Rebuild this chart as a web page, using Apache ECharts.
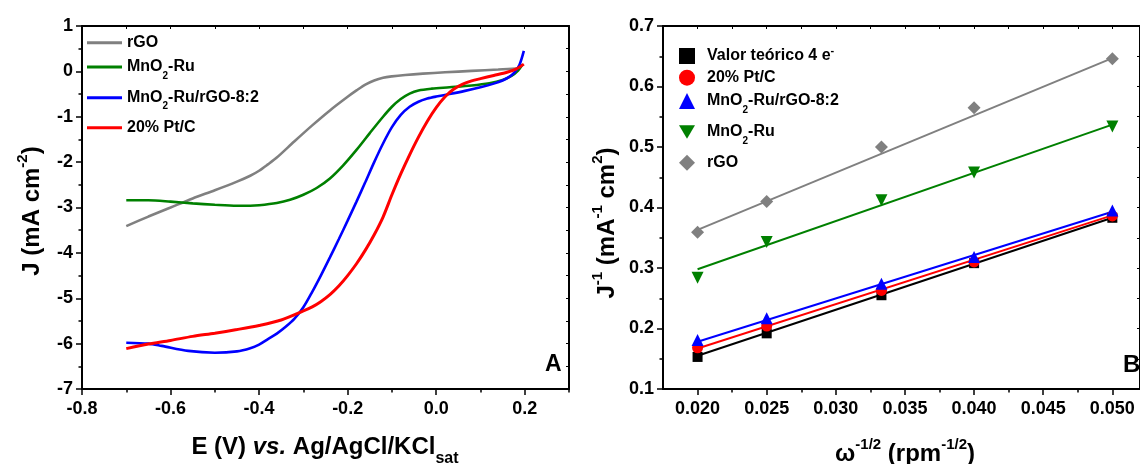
<!DOCTYPE html>
<html><head><meta charset="utf-8">
<script src="https://cdn.jsdelivr.net/npm/echarts@6/dist/echarts.min.js"></script>
<style>html,body{margin:0;padding:0;background:#fff}#c{width:1140px;height:464px}</style>
</head><body><div id="c"></div>
<script>
const FONT = "'Liberation Sans', Arial, Helvetica, sans-serif";

// ---------- Panel A: E (V) vs. J (mA cm^-2) ----------
const curveRGO = [[-0.70,-3.41],[-0.65,-3.20],[-0.60,-3.00],[-0.55,-2.80],[-0.50,-2.62],[-0.45,-2.43],[-0.42,-2.30],[-0.40,-2.19],[-0.38,-2.05],[-0.36,-1.90],[-0.32,-1.54],[-0.28,-1.19],[-0.24,-0.86],[-0.20,-0.56],[-0.18,-0.42],[-0.16,-0.29],[-0.14,-0.20],[-0.12,-0.14],[-0.10,-0.11],[-0.07,-0.08],[-0.03,-0.05],[0.02,-0.02],[0.08,0.01],[0.14,0.04],[0.19,0.07]];
const curveMnO2Ru = [[-0.70,-2.84],[-0.65,-2.84],[-0.60,-2.87],[-0.55,-2.91],[-0.50,-2.94],[-0.45,-2.96],[-0.42,-2.96],[-0.40,-2.95],[-0.36,-2.90],[-0.33,-2.83],[-0.30,-2.72],[-0.27,-2.57],[-0.24,-2.36],[-0.21,-2.07],[-0.18,-1.73],[-0.15,-1.36],[-0.12,-1.00],[-0.10,-0.78],[-0.08,-0.61],[-0.06,-0.49],[-0.04,-0.42],[-0.01,-0.38],[0.03,-0.35],[0.08,-0.31],[0.12,-0.26],[0.15,-0.19],[0.17,-0.10],[0.185,0.02],[0.195,0.15]];
const curveComposite = [[-0.70,-5.98],[-0.65,-6.00],[-0.62,-6.05],[-0.56,-6.16],[-0.50,-6.20],[-0.45,-6.17],[-0.42,-6.10],[-0.40,-6.02],[-0.38,-5.90],[-0.36,-5.78],[-0.34,-5.63],[-0.32,-5.45],[-0.30,-5.20],[-0.28,-4.86],[-0.26,-4.49],[-0.24,-4.10],[-0.22,-3.70],[-0.20,-3.29],[-0.18,-2.87],[-0.16,-2.44],[-0.14,-2.00],[-0.12,-1.59],[-0.10,-1.23],[-0.08,-0.96],[-0.06,-0.78],[-0.04,-0.67],[-0.02,-0.60],[0.00,-0.555],[0.03,-0.50],[0.065,-0.43],[0.10,-0.35],[0.13,-0.27],[0.15,-0.20],[0.165,-0.12],[0.177,-0.02],[0.188,0.14],[0.198,0.45]];
const curvePtC = [[-0.70,-6.11],[-0.65,-6.01],[-0.60,-5.93],[-0.55,-5.84],[-0.50,-5.77],[-0.45,-5.69],[-0.40,-5.60],[-0.35,-5.48],[-0.30,-5.28],[-0.28,-5.19],[-0.26,-5.07],[-0.24,-4.92],[-0.22,-4.73],[-0.20,-4.50],[-0.18,-4.24],[-0.16,-3.94],[-0.14,-3.60],[-0.12,-3.21],[-0.10,-2.72],[-0.08,-2.26],[-0.06,-1.84],[-0.04,-1.45],[-0.02,-1.10],[0.00,-0.80],[0.02,-0.56],[0.04,-0.39],[0.06,-0.28],[0.08,-0.21],[0.10,-0.16],[0.13,-0.09],[0.16,-0.02],[0.18,0.05],[0.198,0.16]];
const xTicksA = [-0.8,-0.6,-0.4,-0.2,0.0,0.2];
const xMinorA = [-0.7,-0.5,-0.3,-0.1,0.1,0.3];
const yTicksA = [-7,-6,-5,-4,-3,-2,-1,0,1];
const yMinorA = [-6.5,-5.5,-4.5,-3.5,-2.5,-1.5,-0.5,0.5];

// ---------- Panel B: omega^-1/2 vs. J^-1 ----------
const omegaInv = [0.020,0.025,0.0333,0.040,0.050];
const invJTheory = [0.153,0.192,0.255,0.308,0.383];
const invJPtC = [0.168,0.204,0.263,0.310,0.386];
const invJComposite = [0.181,0.217,0.274,0.318,0.395];
const invJMnO2Ru = [0.284,0.343,0.412,0.458,0.534];
const invJRGO = [0.359,0.410,0.500,0.565,0.646];
const fitX = [0.020,0.050];
const fitTheory = [0.155,0.383];
const fitPtC = [0.167,0.387];
const fitComposite = [0.178,0.393];
const fitMnO2Ru = [0.298,0.537];
const fitRGO = [0.363,0.647];
const xTicksB = [0.020,0.025,0.030,0.035,0.040,0.045,0.050];
const xMinorB = [0.0225,0.0275,0.0325,0.0375,0.0425,0.0475];
const yTicksB = [0.1,0.2,0.3,0.4,0.5,0.6,0.7];
const yMinorB = [0.15,0.25,0.35,0.45,0.55,0.65];

function mkAxes(gridIndex, dim, min, max, majors, minors, fmt, margin) {
  const mainPos = dim === 'x' ? 'bottom' : 'left';
  const oppPos = dim === 'x' ? 'top' : 'right';
  const line = {show: true, onZero: false, lineStyle: {color: '#000', width: 2}};
  return [
    {type: 'value', gridIndex, position: mainPos, min, max, axisLine: line, splitLine: {show: false},
     axisTick: {show: true, inside: false, length: 6, lineStyle: {width: 1.5, color: '#000'}, customValues: majors},
     axisLabel: {show: true, customValues: majors, formatter: fmt, margin, color: '#000',
                 fontFamily: FONT, fontWeight: 'bold', fontSize: 18}},
    {type: 'value', gridIndex, position: mainPos, min, max, axisLine: {show: false, onZero: false}, splitLine: {show: false},
     axisTick: {show: true, inside: false, length: 3.5, lineStyle: {width: 1.5, color: '#000'}, customValues: minors},
     axisLabel: {show: false}},
    {type: 'value', gridIndex, position: oppPos, min, max, axisLine: line, splitLine: {show: false},
     axisTick: {show: true, inside: true, length: 3, lineStyle: {width: 1, color: '#000'}, customValues: majors.concat(minors)},
     axisLabel: {show: false}}
  ];
}

const richLeg = {
  b: {fontSize: 16, fontWeight: 'bold', fontFamily: FONT, color: '#000', padding: [6, 0, 6, 0]},
  sub: {fontSize: 10, fontWeight: 'bold', fontFamily: FONT, color: '#000', verticalAlign: 'top', padding: [18, 0, 0, 0]},
  sup: {fontSize: 11, fontWeight: 'bold', fontFamily: FONT, color: '#000', verticalAlign: 'top', padding: [3, 0, 0, 0]},
  g: {width: 7, fontSize: 1}
};
const legendLabels = {
  'rGO': '{b|rGO}',
  'MnO2-Ru': '{b|MnO}{sub|2}{b|-Ru}',
  'MnO2-Ru/rGO-8:2': '{b|MnO}{sub|2}{b|-Ru/rGO-8:2}',
  '20% Pt/C': '{b|20% Pt/C}',
  'B-theory': '{g| }{b|Valor teórico 4 e}{sup|-}',
  'B-PtC': '{g| }{b|20% Pt/C}',
  'B-comp': '{g| }{b|MnO}{sub|2}{b|-Ru/rGO-8:2}',
  'B-MnO2Ru': '{g| }{b|MnO}{sub|2}{b|-Ru}',
  'B-rGO': '{g| }{b|rGO}'
};
// legend rows (name, row centre y)
const legendRowsA = [['rGO', 41.7], ['MnO2-Ru', 66], ['MnO2-Ru/rGO-8:2', 96.7], ['20% Pt/C', 126.7]];
const legendRowsB = [['B-theory', 52], ['B-PtC', 76.7], ['B-comp', 100], ['B-MnO2Ru', 131], ['B-rGO', 161.7]];

const richTitle = {
  b: {fontSize: 24, fontWeight: 'bold', fontFamily: FONT, fill: '#000', lineHeight: 28, verticalAlign: 'top', padding: [5, 0, 0, 0]},
  i: {fontSize: 24, fontWeight: 'bold', fontStyle: 'italic', fontFamily: FONT, fill: '#000', lineHeight: 28, verticalAlign: 'top', padding: [5, 0, 0, 0]},
  sup: {fontSize: 15, fontWeight: 'bold', fontFamily: FONT, fill: '#000', lineHeight: 15, verticalAlign: 'top', padding: [0, 0, 0, 0]},
  sub: {fontSize: 16, fontWeight: 'bold', fontFamily: FONT, fill: '#000', lineHeight: 16, verticalAlign: 'top', padding: [21, 0, 0, 0]}
};

const pairs = (xs, ys) => xs.map((x, i) => [x, ys[i]]);
const invTri = 'path://M0,0 L12,0 L6,10 Z';
const GRAY = '#808080';

const lineA = (name, data, color, w) => ({
  name, type: 'line', xAxisIndex: 0, yAxisIndex: 0, data, showSymbol: false, smooth: 0.3,
  color, lineStyle: {color, width: w}, z: 3
});
const fitB = (data, color) => ({
  type: 'line', xAxisIndex: 3, yAxisIndex: 3, data: pairs(fitX, data), showSymbol: false,
  color, lineStyle: {color, width: 2}, z: 2, silent: true
});
const ptsB = (name, data, color, symbol, size) => ({
  name, type: 'scatter', xAxisIndex: 3, yAxisIndex: 3, data: pairs(omegaInv, data),
  symbol, symbolSize: size, color, itemStyle: {color, opacity: 1}, z: 4
});

const LEG_SHIFT = 7;
const legends = [
  ...legendRowsA.map(([n, cy]) => ({
    orient: 'vertical', left: 87, top: cy - 14 + LEG_SHIFT, padding: 0, itemWidth: 35, itemHeight: 3, icon: 'rect',
    data: [n], formatter: k => legendLabels[k], textStyle: {rich: richLeg}, selectedMode: false})),
  ...legendRowsB.map(([n, cy]) => ({
    orient: 'vertical', left: 679, top: cy - 14 + LEG_SHIFT, padding: 0, itemWidth: 16, itemHeight: 16,
    data: [n], formatter: k => legendLabels[k], textStyle: {rich: richLeg}, selectedMode: false,
    itemStyle: {opacity: 1}}))
];

const option = {
  animation: false,
  backgroundColor: '#fff',
  grid: [
    {left: 82, top: 26, width: 487, height: 363},
    {left: 663, top: 26, width: 480, height: 363}
  ],
  xAxis: [
    ...mkAxes(0, 'x', -0.8, 0.3, xTicksA, xMinorA, v => v.toFixed(1), 11),
    ...mkAxes(1, 'x', 0.0175, 0.052, xTicksB, xMinorB, v => v.toFixed(3), 11)
  ],
  yAxis: [
    ...mkAxes(0, 'y', -7, 1, yTicksA, yMinorA, v => String(Math.round(v)), 9),
    ...mkAxes(1, 'y', 0.1, 0.7, yTicksB, yMinorB, v => v.toFixed(1), 9)
  ],
  legend: legends,
  series: [
    lineA('rGO', curveRGO, GRAY, 2.6),
    lineA('MnO2-Ru', curveMnO2Ru, '#008000', 2.6),
    lineA('MnO2-Ru/rGO-8:2', curveComposite, '#0000ff', 2.6),
    lineA('20% Pt/C', curvePtC, '#ff0000', 3),
    fitB(fitTheory, '#000000'),
    fitB(fitPtC, '#ff0000'),
    fitB(fitComposite, '#0000ff'),
    fitB(fitMnO2Ru, '#008000'),
    fitB(fitRGO, GRAY),
    ptsB('B-theory', invJTheory, '#000000', 'rect', 10),
    ptsB('B-PtC', invJPtC, '#ff0000', 'circle', 11),
    ptsB('B-comp', invJComposite, '#0000ff', 'triangle', 12),
    ptsB('B-MnO2Ru', invJMnO2Ru, '#008000', invTri, 12),
    ptsB('B-rGO', invJRGO, GRAY, 'diamond', 13)
  ],
  graphic: [
    {type: 'text', x: 29, y: 211, rotation: Math.PI / 2,
     style: {text: '{b|J (mA cm}{sup|-2}{b|)}', rich: richTitle, align: 'center', verticalAlign: 'middle'}},
    {type: 'text', x: 325, y: 430,
     style: {text: '{b|E (V) }{i|vs.}{b| Ag/AgCl/KCl}{sub|sat}', rich: richTitle, align: 'center', verticalAlign: 'top'}},
    {type: 'text', x: 604, y: 223, rotation: Math.PI / 2,
     style: {text: '{b|J}{sup|-1}{b| (mA}{sup|-1}{b| cm}{sup|2}{b|)}', rich: richTitle, align: 'center', verticalAlign: 'middle'}},
    {type: 'text', x: 905, y: 437,
     style: {text: '{b|ω}{sup|-1/2}{b| (rpm}{sup|-1/2}{b|)}', rich: richTitle, align: 'center', verticalAlign: 'top'}},
    {type: 'text', x: 545, y: 365, style: {text: 'A', font: 'bold 23px ' + FONT, fill: '#000', align: 'left', verticalAlign: 'middle'}},
    {type: 'text', x: 1123, y: 365, style: {text: 'B', font: 'bold 24px ' + FONT, fill: '#000', align: 'left', verticalAlign: 'middle'}}
  ]
};

const chart = echarts.init(document.getElementById('c'), null, {renderer: 'canvas'});
chart.setOption(option);
</script>
</body></html>
